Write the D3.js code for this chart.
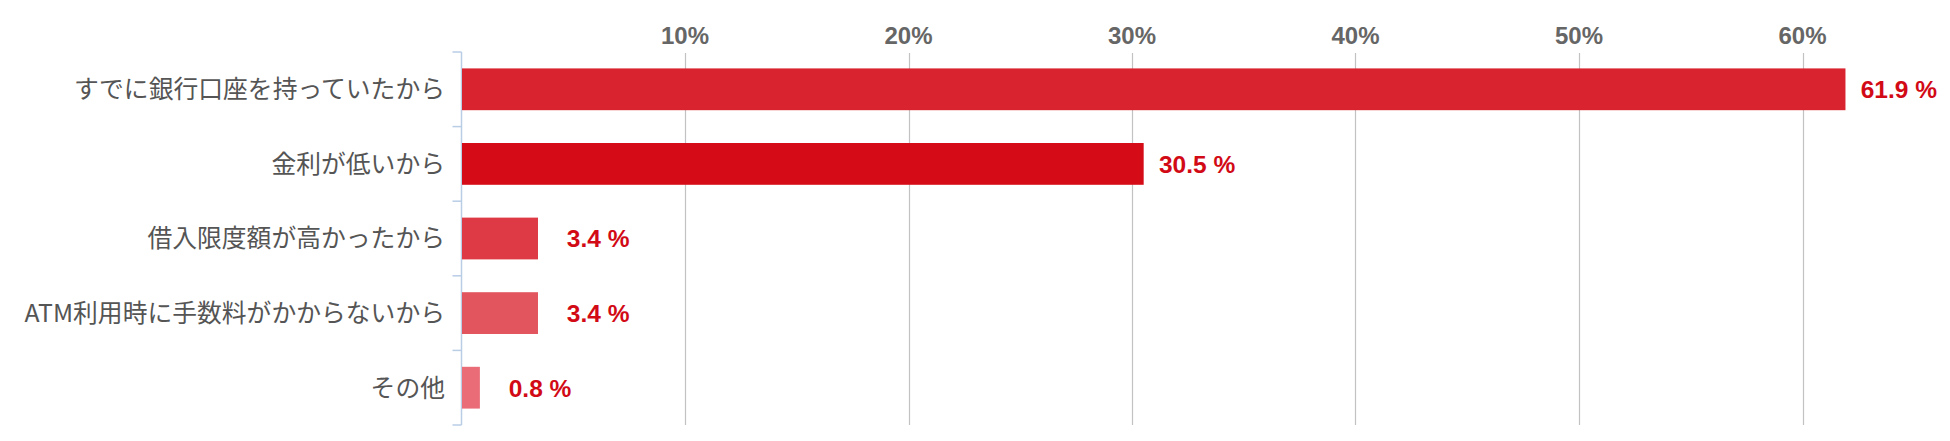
<!DOCTYPE html>
<html>
<head>
<meta charset="utf-8">
<script src="https://cdn.jsdelivr.net/npm/d3@7"></script>
<style>
  html, body { margin: 0; padding: 0; background: #fff; }
</style>
</head>
<body>
<div id="chart"></div>
<script>
const categories = [
    "すでに銀行口座を持っていたから",
    "金利が低いから",
    "借入限度額が高かったから",
    "ATM利用時に手数料がかからないから",
    "その他"
];
const values = [61.9, 30.5, 3.4, 3.4, 0.8];
const barColors = ["#d9232f", "#d50c18", "#dd3a45", "#e2555f", "#e96c76"];
const tickValues = [10, 20, 30, 40, 50, 60];

const width = 1950;
const height = 441;

const svg = d3.select("#chart")
    .append("svg")
    .attr("width", width)
    .attr("height", height);

const x = d3.scaleLinear()
    .domain([0, 60])
    .range([461.5, 1802.5]);

const y = d3.scaleBand()
    .domain(categories)
    .range([52, 425])
    .paddingInner(0.44)
    .paddingOuter(0.22);

// vertical grid lines
svg.append("g")
    .selectAll("line")
    .data(tickValues)
    .join("line")
    .attr("x1", d => Math.round(x(d)) + 0.5)
    .attr("x2", d => Math.round(x(d)) + 0.5)
    .attr("y1", 53)
    .attr("y2", 425)
    .attr("stroke", "#c2c2c2")
    .attr("stroke-width", 1.2);

// top tick labels
svg.append("g")
    .selectAll("text")
    .data(tickValues)
    .join("text")
    .attr("x", d => x(d))
    .attr("y", 44)
    .attr("text-anchor", "middle")
    .attr("font-family", "'Liberation Sans', Arial, sans-serif")
    .attr("font-weight", "bold")
    .attr("font-size", "24px")
    .attr("fill", "#666")
    .text(d => d + "%");

// left axis (line + ticks at band boundaries)
const step = y.step();
const boundaries = d3.range(categories.length + 1).map(i => y.range()[0] + i * step);

svg.append("line")
    .attr("x1", x(0))
    .attr("x2", x(0))
    .attr("y1", y.range()[0])
    .attr("y2", y.range()[1])
    .attr("stroke", "#b9cde5")
    .attr("stroke-width", 1.5);

svg.append("g")
    .selectAll("line")
    .data(boundaries)
    .join("line")
    .attr("x1", x(0) - 9)
    .attr("x2", x(0))
    .attr("y1", d => d)
    .attr("y2", d => d)
    .attr("stroke", "#b9cde5")
    .attr("stroke-width", 1.5);

// bars
svg.append("g")
    .selectAll("rect")
    .data(values)
    .join("rect")
    .attr("x", x(0) + 0.5)
    .attr("y", (d, i) => y(categories[i]))
    .attr("width", d => x(d) - x(0))
    .attr("height", y.bandwidth())
    .attr("fill", (d, i) => barColors[i]);

// category labels
svg.append("g")
    .selectAll("text")
    .data(categories)
    .join("text")
    .attr("x", 445)
    .attr("y", d => y(d) + y.bandwidth() / 2)
    .attr("dy", "0.36em")
    .attr("text-anchor", "end")
    .attr("font-family", "'Noto Sans CJK JP', 'Noto Sans', sans-serif")
    .attr("font-size", "24.8px")
    .attr("fill", "#555")
    .text(d => d);

// value labels (right-aligned a fixed distance past the bar end)
svg.append("g")
    .selectAll("text")
    .data(values)
    .join("text")
    .attr("x", d => x(d) + 92)
    .attr("y", (d, i) => y(categories[i]) + y.bandwidth() / 2)
    .attr("dy", "0.36em")
    .attr("text-anchor", "end")
    .attr("font-family", "'Liberation Sans', Arial, sans-serif")
    .attr("font-weight", "bold")
    .attr("font-size", "24.5px")
    .attr("fill", "#d20a16")
    .text(d => d3.format(".1f")(d) + " %");
</script>
</body>
</html>
